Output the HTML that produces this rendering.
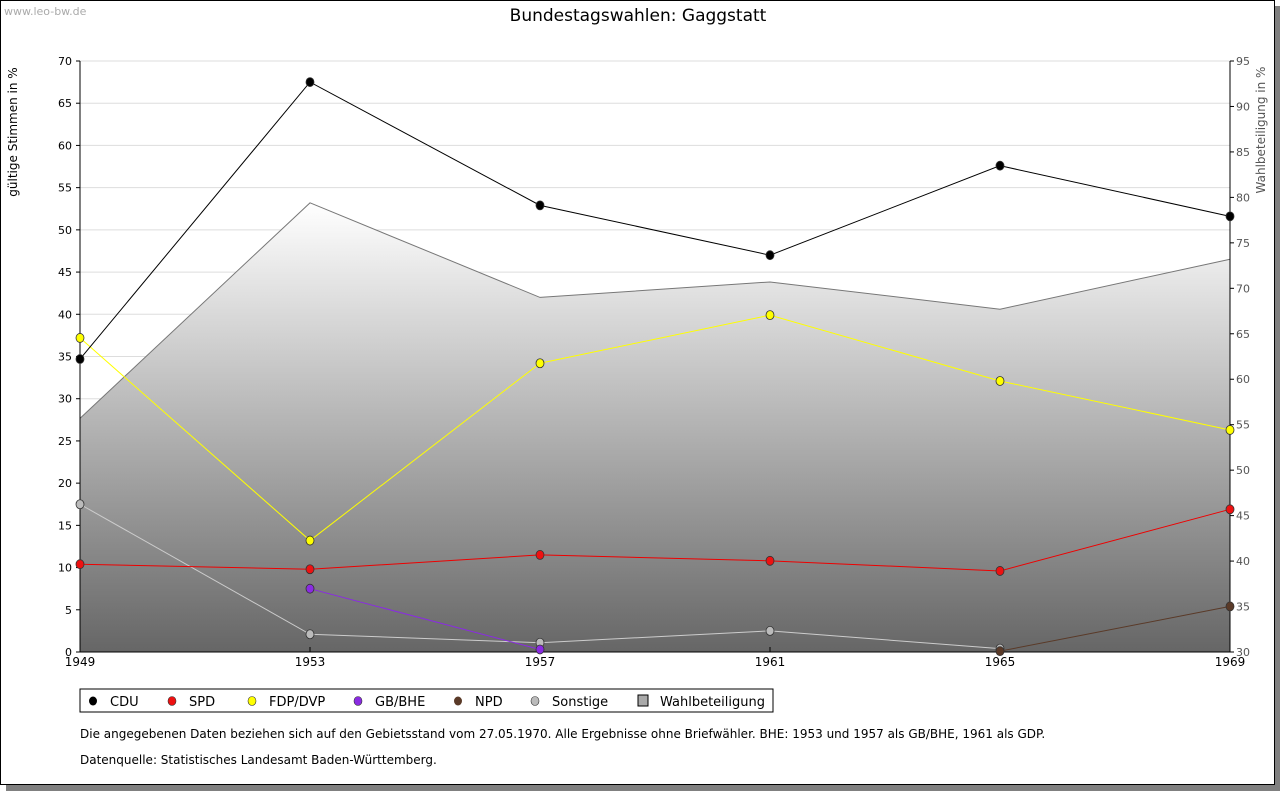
<!DOCTYPE html>
<html><head><meta charset="utf-8"><style>
body{margin:0;width:1280px;height:791px;background:#fff;overflow:hidden;font-family:"DejaVu Sans","Liberation Sans",sans-serif}
#shadow{position:absolute;left:6px;top:6px;width:1274px;height:785px;background:#808080}
#frame{position:absolute;left:0;top:0;width:1273px;height:783px;border:1px solid #000;background:#fff}
svg{position:absolute;left:0;top:0}
</style></head><body>
<div id="shadow"></div>
<div id="frame"></div>
<svg id="chart" width="1280" height="791">
<defs><linearGradient id="g" x1="0" y1="0" x2="0" y2="1">
<stop offset="0" stop-color="#ffffff"/><stop offset="1" stop-color="#666666"/></linearGradient></defs>
</svg>
<script>
const years=[1949,1953,1957,1961,1965,1969];
const cdu=[34.7,67.5,52.9,47.0,57.6,51.6];
const spd=[10.4,9.8,11.5,10.8,9.6,16.9];
const fdp=[37.2,13.2,34.2,39.9,32.1,26.3];
const gbbhe=[null,7.5,0.3,null,null,null];
const npd=[null,null,null,null,0.1,5.4];
const sonstige=[17.5,2.1,1.1,2.5,0.4,null];
const turnout=[55.7,79.4,69.0,70.7,67.7,73.2];
const leftTicks=[0,5,10,15,20,25,30,35,40,45,50,55,60,65,70];
const rightTicks=[30,35,40,45,50,55,60,65,70,75,80,85,90,95];
const NS='http://www.w3.org/2000/svg';
const svg=document.getElementById('chart');
const X0=80,X1=1230,Y0=652,Y1=61;
const x=i=>X0+(years[i]-years[0])/(years[years.length-1]-years[0])*(X1-X0);
const yL=v=>Y0-v/70*(Y0-Y1);
const yR=v=>Y0-(v-30)/65*(Y0-Y1);
function el(t,a,txt){const e=document.createElementNS(NS,t);for(const k in a)e.setAttribute(k,a[k]);if(txt!=null)e.textContent=txt;svg.appendChild(e);return e;}
leftTicks.forEach(v=>{if(v>0){const g=el('line',{x1:X0,x2:X1,y1:yL(v),y2:yL(v),stroke:'#dddddd'});}});
let d='M'+x(0)+','+Y0;turnout.forEach((v,i)=>d+=' L'+x(i)+','+yR(v));d+=' L'+x(5)+','+Y0+' Z';
const area=el('path',{d:d,fill:'url(#g)'});

let dl='';turnout.forEach((v,i)=>dl+=(i?' L':'M')+x(i)+','+yR(v));
const tl=el('path',{d:dl,fill:'none',stroke:'#777',"stroke-width":1});

el('line',{x1:X0,x2:X0,y1:Y1,y2:Y0,stroke:'#000'});
el('line',{x1:X1,x2:X1,y1:Y1,y2:Y0,stroke:'#000'});
el('line',{x1:X0,x2:X1,y1:Y0,y2:Y0,stroke:'#000'});
leftTicks.forEach(v=>{el('line',{x1:X0-4,x2:X0,y1:yL(v),y2:yL(v),stroke:'#000'});
const t=el('text',{x:X0-8,y:yL(v)+4,'text-anchor':'end','font-size':11,fill:'#000'},v);});
rightTicks.forEach(v=>{el('line',{x1:X1,x2:X1+4,y1:yR(v),y2:yR(v),stroke:'#000'});
const t=el('text',{x:X1+6,y:yR(v)+4,'font-size':11,fill:'#555'},v);});
years.forEach((yy,i)=>{el('line',{x1:x(i),x2:x(i),y1:Y0-5,y2:Y0,stroke:'#000'});
const t=el('text',{x:x(i),y:Y0+14,'text-anchor':'middle','font-size':12,fill:'#000'},yy);});
function series(arr,color,fill,name){let p='',started=false;arr.forEach((v,i)=>{if(v==null){started=false;return;}p+=(started?' L':' M')+x(i)+','+yL(v);started=true;});
const l=el('path',{d:p,fill:'none',stroke:color,'stroke-width':1});
arr.forEach((v,i)=>{if(v==null)return;const c=el('ellipse',{cx:x(i),cy:yL(v),rx:4,ry:4.5,fill:fill,stroke:'#333','stroke-width':0.8});
});}
series(sonstige,'#cccccc','#bbbbbb','sonstige');
series(npd,'#5a3a28','#5a3a28','npd');
series(gbbhe,'#8a2be2','#8a2be2','gbbhe');
series(spd,'#ee0000','#ee1111','spd');
series(fdp,'#ffff00','#ffff00','fdp');
series(cdu,'#000000','#000000','cdu');
</script>
<svg width="1280" height="791" style="pointer-events:none">
<text x="4" y="15" font-size="11" fill="#aaaaaa">www.leo-bw.de</text>
<text x="638" y="21" font-size="17" text-anchor="middle" fill="#000">Bundestagswahlen: Gaggstatt</text>
<text transform="translate(17,132) rotate(-90)" font-size="12" text-anchor="middle" fill="#000">gültige Stimmen in %</text>
<text transform="translate(1265,130) rotate(-90)" font-size="12" text-anchor="middle" fill="#555">Wahlbeteiligung in %</text>
<g>
<rect x="80" y="689" width="693" height="23" fill="#fff" stroke="#000"/>
<ellipse cx="93" cy="701" rx="4" ry="4.5" fill="#000"/><text x="110" y="706" font-size="13">CDU</text>
<ellipse cx="172" cy="701" rx="4" ry="4.5" fill="#e11" stroke="#333" stroke-width=".6"/><text x="189" y="706" font-size="13">SPD</text>
<ellipse cx="252" cy="701" rx="4" ry="4.5" fill="#ff0" stroke="#333" stroke-width=".6"/><text x="269" y="706" font-size="13">FDP/DVP</text>
<ellipse cx="358" cy="701" rx="4" ry="4.5" fill="#8a2be2" stroke="#333" stroke-width=".6"/><text x="375" y="706" font-size="13">GB/BHE</text>
<ellipse cx="458" cy="701" rx="4" ry="4.5" fill="#5a3a28"/><text x="475" y="706" font-size="13">NPD</text>
<ellipse cx="535" cy="701" rx="4" ry="4.5" fill="#bbb" stroke="#333" stroke-width=".6"/><text x="552" y="706" font-size="13">Sonstige</text>
<rect x="638" y="695" width="10" height="11" fill="#aaa" stroke="#000"/><text x="660" y="706" font-size="13">Wahlbeteiligung</text>
</g>
<text x="80" y="738" font-size="12">Die angegebenen Daten beziehen sich auf den Gebietsstand vom 27.05.1970. Alle Ergebnisse ohne Briefwähler. BHE: 1953 und 1957 als GB/BHE, 1961 als GDP.</text>
<text x="80" y="764" font-size="12">Datenquelle: Statistisches Landesamt Baden-Württemberg.</text>
</svg>
</body></html>
